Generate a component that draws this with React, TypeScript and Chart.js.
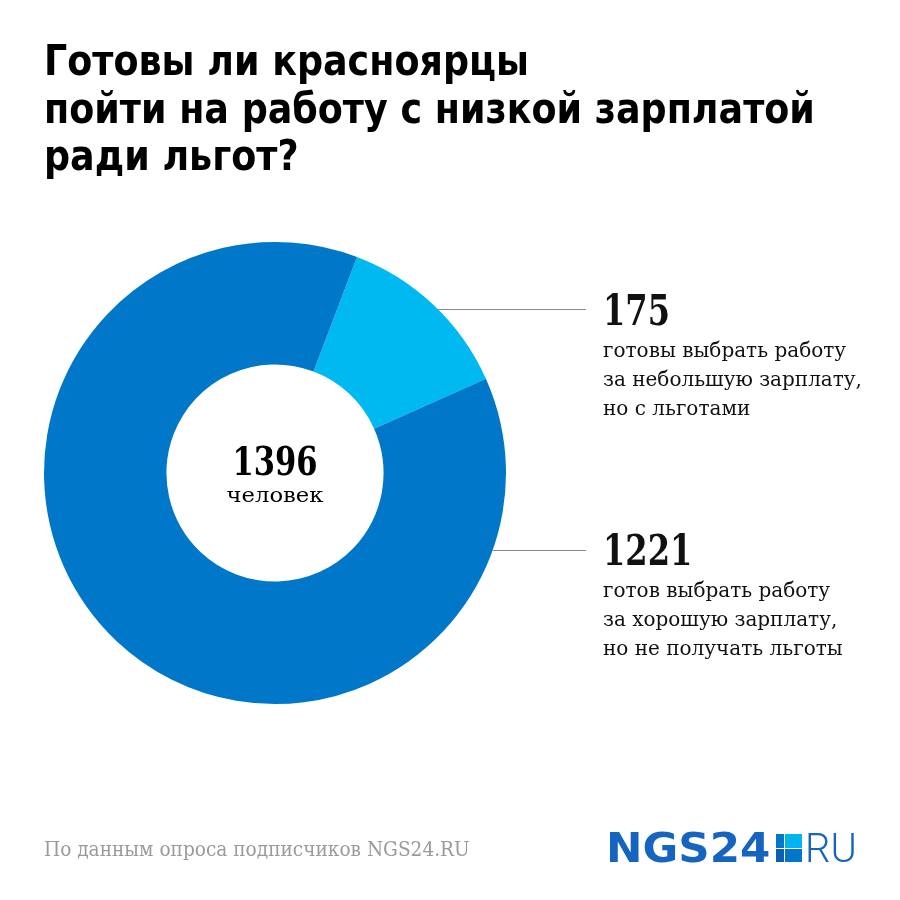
import React, { useEffect, useRef } from 'react';
import { Chart, registerables } from 'chart.js';

Chart.register(...registerables);

const titleLines = ['Готовы ли красноярцы', 'пойти на работу с низкой зарплатой', 'ради льгот?'];
const categories = ['Готовы на небольшую зарплату с льготами', 'Готов на хорошую зарплату без льгот'];
const values = [175, 1221];
const colors = ['#00b9f0', '#0077c8'];
const centerUnit = 'человек';
const labelLines = [
  ['готовы выбрать работу', 'за небольшую зарплату,', 'но с льготами'],
  ['готов выбрать работу', 'за хорошую зарплату,', 'но не получать льготы'],
];
const sourceText = 'По данным опроса подписчиков NGS24.RU';
const logoMain = 'NGS24';
const logoTail = 'RU';

const TITLE_FONT = '"Liberation Sans Narrow", "DejaVu Sans Condensed", "Roboto", sans-serif';
const SERIF = '"DejaVu Serif", serif';
const SERIF_COND = '"DejaVu Serif Condensed", "DejaVu Serif", serif';

function fitText(ctx: CanvasRenderingContext2D, text: string, x: number, y: number, sx: number, align: 'left' | 'center' = 'left') {
  ctx.save();
  ctx.translate(x, y);
  ctx.scale(sx, 1);
  ctx.textAlign = align;
  ctx.fillText(text, 0, 0);
  ctx.restore();
}

const overlay = {
  id: 'overlay',
  afterDraw(chart: any) {
    const ctx: CanvasRenderingContext2D = chart.ctx;
    const arc: any = chart.getDatasetMeta(0).data[0];
    const cx = arc.x;
    const cy = arc.y;
    const R = arc.outerRadius;
    ctx.save();
    ctx.textBaseline = 'alphabetic';

    // title
    ctx.fillStyle = '#000';
    ctx.font = `bold 42px ${TITLE_FONT}`;
    titleLines.forEach((t, i) => fitText(ctx, t, 44, 75 + i * 47.5, 0.965));

    // center
    const total = values.reduce((a, b) => a + b, 0);
    ctx.font = `bold 40px ${SERIF_COND}`;
    fitText(ctx, String(total), cx, 475, 0.85, 'center');
    ctx.font = `21px ${SERIF}`;
    fitText(ctx, centerUnit, cx, 502, 1.08, 'center');

    // leader lines + labels
    const lineY = [309, 550];
    const numY = [325, 565];
    const textX = 603;
    ctx.strokeStyle = '#8a8a8a';
    ctx.lineWidth = 1;
    lineY.forEach((y, i) => {
      const dy = y - cy;
      const x0 = cx + Math.sqrt(Math.max(0, R * R - dy * dy));
      ctx.beginPath();
      ctx.moveTo(x0, y + 0.5);
      ctx.lineTo(586, y + 0.5);
      ctx.stroke();
      ctx.fillStyle = '#111';
      ctx.font = `bold 42px ${SERIF_COND}`;
      fitText(ctx, String(values[i]), textX, numY[i], 0.85);
      ctx.font = `20px ${SERIF}`;
      labelLines[i].forEach((t, j) => fitText(ctx, t, textX, numY[i] + 32 + j * 29, 1.0));
    });

    // source
    ctx.fillStyle = '#9a9a9a';
    ctx.font = `20px ${SERIF_COND}`;
    fitText(ctx, sourceText, 44, 856, 1.03);

    // logo
    ctx.fillStyle = '#1565c0';
    ctx.font = `bold 40px "DejaVu Sans", sans-serif`;
    fitText(ctx, logoMain, 606, 862, 1.09);
    ctx.fillStyle = '#0077c8';
    ctx.fillRect(776, 834, 8, 14);
    ctx.fillStyle = '#00b4f0';
    ctx.fillRect(785, 834, 17, 14);
    ctx.fillStyle = '#0a5fb0';
    ctx.fillRect(776, 849, 8, 13);
    ctx.fillStyle = '#0077c8';
    ctx.fillRect(785, 849, 17, 13);
    ctx.fillStyle = '#1565c0';
    ctx.font = `300 40px Roboto, sans-serif`;
    fitText(ctx, logoTail, 805, 862, 1);

    ctx.restore();
  },
};

export default function App() {
  const ref = useRef<HTMLCanvasElement>(null);
  useEffect(() => {
    document.body.style.margin = '0';
    const chart = new Chart(ref.current!, {
      type: 'doughnut',
      data: {
        labels: categories,
        datasets: [
          {
            data: values,
            backgroundColor: colors,
            borderWidth: 0,
            hoverBorderWidth: 0,
            hoverOffset: 0,
          },
        ],
      },
      options: {
        responsive: false,
        animation: false,
        devicePixelRatio: 1,
        rotation: 20.8,
        cutout: '47%',
        layout: { padding: { left: 44, top: 242, right: 394, bottom: 196 } },
        plugins: { legend: { display: false }, tooltip: { enabled: false } },
        events: [],
      },
      plugins: [overlay],
    });
    return () => chart.destroy();
  }, []);
  return (
    <div style={{ width: 900, height: 900, background: '#fff' }}>
      <canvas ref={ref} width={900} height={900} />
    </div>
  );
}
